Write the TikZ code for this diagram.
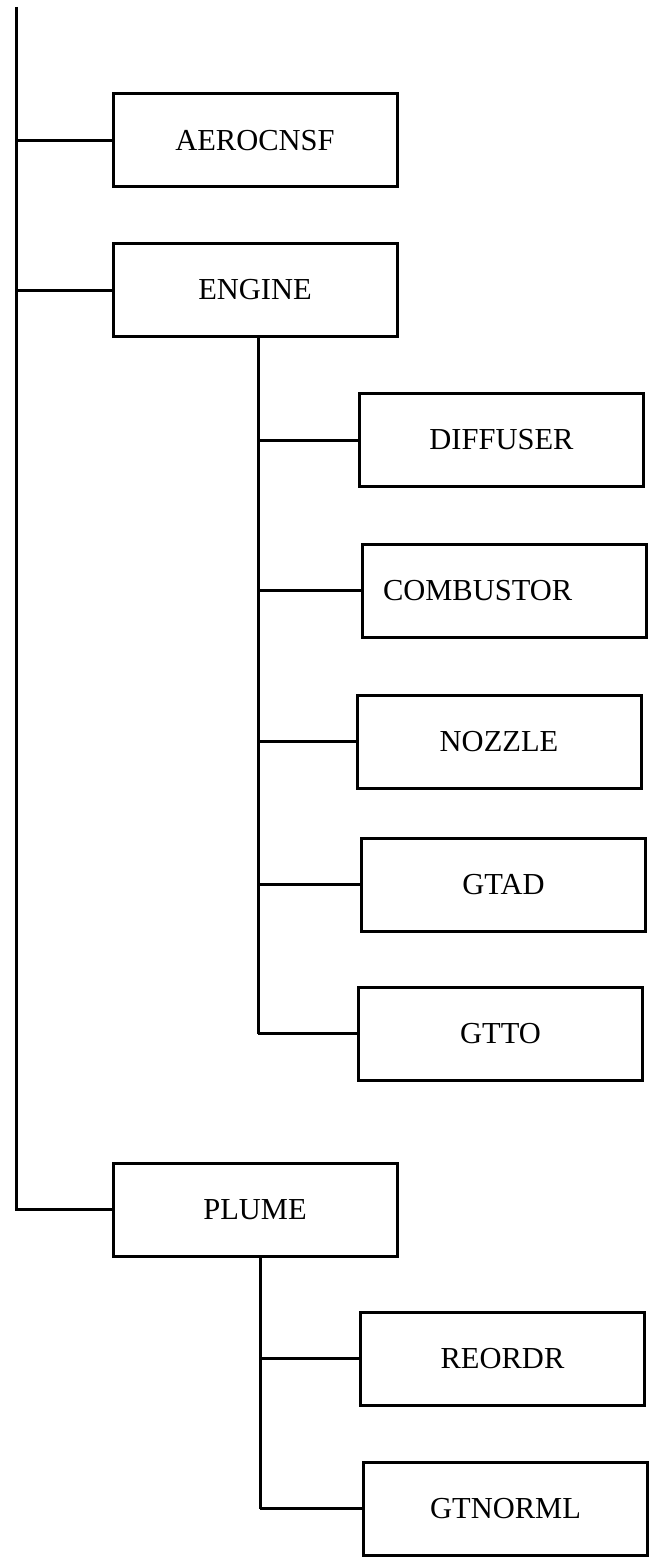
\documentclass[tikz,border=0pt]{standalone}
\usepackage{fontspec}
\setmainfont{Liberation Serif}
\usepackage{tikz}
\usetikzlibrary{positioning,calc}
\tikzset{
    module/.style={rectangle, draw=black, line width=3pt, minimum width=284pt, minimum height=93pt, inner sep=0pt, font=\fontsize{30.5}{30.5}\selectfont},
    link/.style={line width=3pt, black},
}

\begin{document}
\begin{tikzpicture}[x=1pt, y=-1pt]
    \useasboundingbox (0,0) rectangle (653,1557);

    % top level
    \coordinate (trunk) at (16,7);
    \node[module] (aerocnsf) at (255,140.5) {AEROCNSF};
    \node[module] (engine) at (255,290) {ENGINE};
    \node[module] (plume) at (255,1209.5) {PLUME};
    \draw[link] (trunk) |- (plume.west);
    \draw[link] (aerocnsf.west) -- (aerocnsf.west -| trunk);
    \draw[link] (engine.west) -- (engine.west -| trunk);

    % engine modules
    \coordinate (engbus) at (258,0);
    \foreach \x/\y/\name/\txt in {501.5/440/diffuser/DIFFUSER, 499/741.5/nozzle/NOZZLE, 503.5/884.5/gtad/GTAD, 500.5/1033.5/gtto/GTTO} {
        \node[module] (\name) at (\x,\y) {\txt};
        \draw[link] (\name.west) -- (\name.west -| engbus);
    }
    \node[module, text width=242pt, align=left, inner xsep=21pt] (combustor) at (504,590.5) {COMBUSTOR};
    \draw[link] (combustor.west) -- (combustor.west -| engbus);
    \draw[link] (engine.south -| engbus) -- (gtto.west -| engbus);

    % plume modules
    \coordinate (plubus) at (260,0);
    \foreach \x/\y/\name/\txt in {502.5/1358.5/reordr/REORDR, 505.5/1508.5/gtnorml/GTNORML} {
        \node[module] (\name) at (\x,\y) {\txt};
        \draw[link] (\name.west) -- (\name.west -| plubus);
    }
    \draw[link] (plume.south -| plubus) -- (gtnorml.west -| plubus);
\end{tikzpicture}
\end{document}
